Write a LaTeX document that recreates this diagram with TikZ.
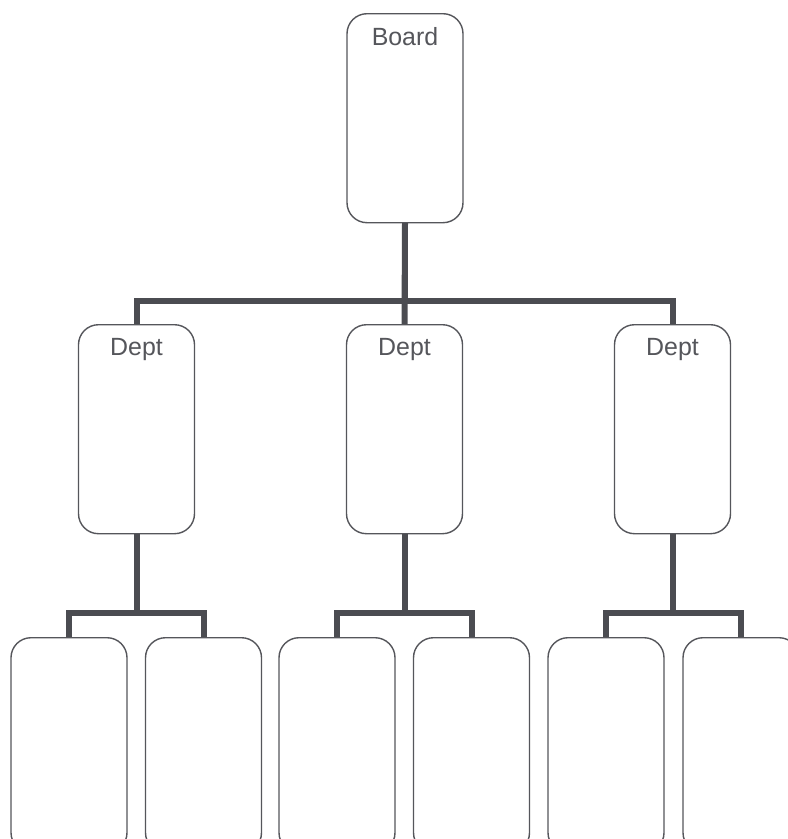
\documentclass[tikz,border=0pt]{standalone}
\usepackage{fontspec}
\setmainfont{Liberation Sans}
\definecolor{boxline}{HTML}{55565B}
\definecolor{conn}{HTML}{4B4C51}
\definecolor{txt}{HTML}{55565B}
\begin{document}
\begin{tikzpicture}[x=1bp,y=-1bp,
  orgbox/.style={draw=boxline,line width=1.4bp,rounded corners=20bp,fill=white,
    minimum width=116bp,minimum height=209bp,inner sep=0pt,anchor=north},
  boxlabel/.style={anchor=north,inner sep=0pt,yshift=-14bp,text=txt,font=\fontsize{25}{30}\selectfont},
  link/.style={draw=conn,line width=6bp}]
\useasboundingbox (0,0) rectangle (788,839);
\begin{scope}
\clip (0,0) rectangle (788,839);
% board and departments
\node[orgbox,label={[boxlabel]north:Board}] (board) at (405,13) {};
\node[orgbox,label={[boxlabel]north:Dept}] (d1) at (136.5,324) {};
\node[orgbox,label={[boxlabel]north:Dept}] (d2) at (404.5,324) {};
\node[orgbox,label={[boxlabel]north:Dept}] (d3) at (672.5,324) {};
% bottom boxes
\node[orgbox,minimum height=215bp] (b1) at (69,637) {};
\node[orgbox,minimum height=215bp] (b2) at (203.5,637) {};
\node[orgbox,minimum height=215bp] (b3) at (337,637) {};
\node[orgbox,minimum height=215bp] (b4) at (471.5,637) {};
\node[orgbox,minimum height=215bp] (b5) at (606,637) {};
\node[orgbox,minimum height=215bp] (b6) at (741,637) {};
% connectors
\draw[link] (board.south) |- (136.5,301) coordinate (busl) -- (d1.north);
\draw[link] (board.south) |- (672.5,301) -- (d3.north);
\draw[link] (board.south) -- (d2.north);
\draw[link] (d1.south) |- (69,613) -- (b1.north);
\draw[link] (d1.south) |- (203.5,613) -- (b2.north);
\draw[link] (d2.south) |- (337,613) -- (b3.north);
\draw[link] (d2.south) |- (471.5,613) -- (b4.north);
\draw[link] (d3.south) |- (606,613) -- (b5.north);
\draw[link] (d3.south) |- (741,613) -- (b6.north);
\end{scope}
\end{tikzpicture}
\end{document}
